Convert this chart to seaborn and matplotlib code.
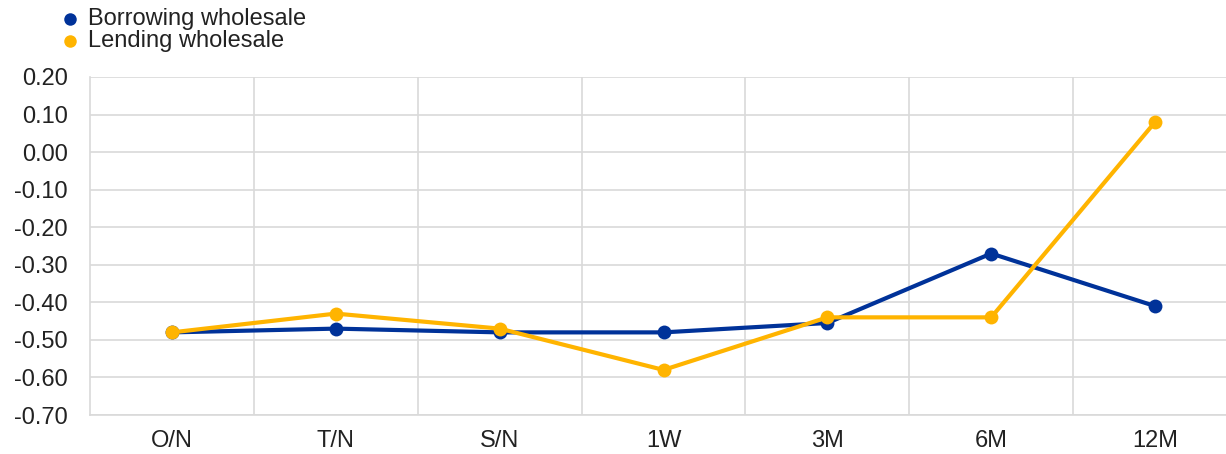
import pandas as pd
import matplotlib.pyplot as plt
import seaborn as sns
from matplotlib.lines import Line2D

# maturities on the x axis
tenors = ["O/N", "T/N", "S/N", "1W", "3M", "6M", "12M"]

# rates
borrowing = [-0.48, -0.47, -0.48, -0.48, -0.455, -0.27, -0.41]
lending = [-0.48, -0.43, -0.47, -0.58, -0.44, -0.44, 0.08]

series_names = ["Borrowing wholesale", "Lending wholesale"]

df = pd.DataFrame({
    "tenor": tenors * 2,
    "rate": borrowing + lending,
    "series": [series_names[0]] * len(tenors) + [series_names[1]] * len(tenors),
})

sns.set_style("whitegrid")
plt.rcParams['font.family'] = ['Liberation Sans', 'DejaVu Sans']

colors = {"Borrowing wholesale": "#003299", "Lending wholesale": "#FFB400"}

fig = plt.figure(figsize=(12.26, 4.54), dpi=100)
ax = fig.add_axes([90 / 1226, 1 - 415 / 454, (1237 - 90) / 1226, (415 - 77) / 454])

sns.lineplot(data=df, x="tenor", y="rate", hue="series", palette=colors,
             marker="o", markersize=10, markeredgewidth=0, linewidth=3,
             sort=False, legend=False, ax=ax)

ax.set_xlim(-0.5, len(tenors) - 0.5)
ax.set_ylim(-0.70, 0.20)
ax.set_yticks([i / 10 for i in range(-7, 3)])
ax.set_yticklabels([f"{v / 10:.2f}" for v in range(-7, 3)])
ax.set_xticks(range(len(tenors)))
ax.set_xticks([i + 0.5 for i in range(len(tenors) - 1)], minor=True)
ax.set_xticklabels(tenors)

ax.grid(False)
ax.yaxis.grid(True, color="#d9d9d9", linewidth=1.2)
ax.xaxis.grid(True, which="minor", color="#d9d9d9", linewidth=1.2)
ax.tick_params(axis="both", which="both", length=0, labelsize=17, colors="#222222")
ax.tick_params(axis="x", pad=11)
ax.tick_params(axis="y", pad=16)
ax.set_xlabel("")
ax.set_ylabel("")
for side in ["top", "right"]:
    ax.spines[side].set_visible(False)
for side in ["left", "bottom"]:
    ax.spines[side].set_color("#d9d9d9")
    ax.spines[side].set_linewidth(1.2)

# legend: coloured dots plus labels at top-left
for i, name in enumerate(series_names):
    y = 1 - (19 + 22 * i) / 454
    fig.add_artist(Line2D([70 / 1226], [y], marker="o", markersize=9,
                          markeredgewidth=0, color=colors[name],
                          transform=fig.transFigure))
    fig.text(88 / 1226, y, name, color="#222222", fontsize=17,
             ha="left", va="center")

fig.savefig("out.png", dpi=100)
